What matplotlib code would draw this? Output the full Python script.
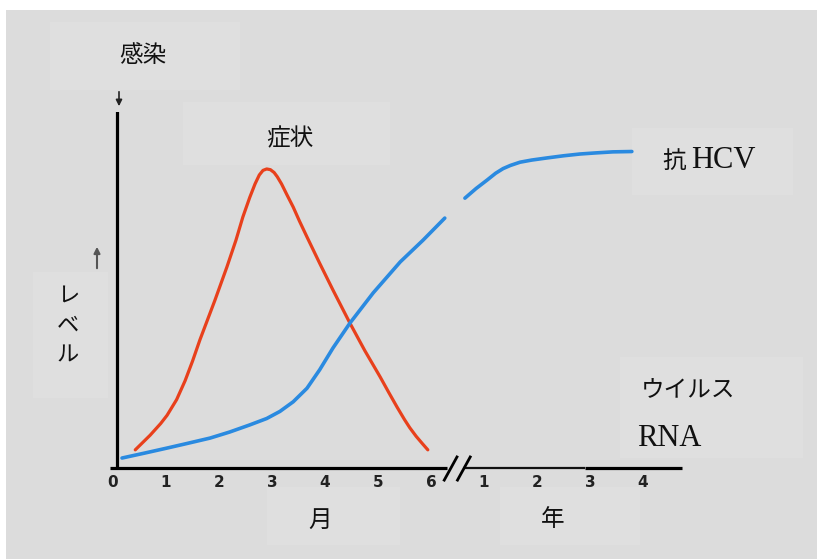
import matplotlib.pyplot as plt
import matplotlib.patches as mpatches
import numpy as np

plt.rcParams['font.family'] = ['Noto Sans CJK JP', 'DejaVu Sans']

# x positions: months 0-6, then years 1-4 placed after the break (year k -> 6 + k)
month_ticks = [0, 1, 2, 3, 4, 5, 6]
year_ticks = [1, 2, 3, 4]
tick_pos = month_ticks + [6 + y for y in year_ticks]
tick_labels = [str(m) for m in month_ticks] + [str(y) for y in year_ticks]

# symptoms curve (red)
symptom_x = [0.42, 0.70, 0.90, 1.02, 1.20, 1.36, 1.50, 1.64, 1.92, 2.15,
             2.32, 2.45, 2.58, 2.68, 2.76, 2.83, 2.90, 2.97, 3.04, 3.10,
             3.18, 3.28, 3.40, 3.52, 3.66, 3.90, 4.15, 4.47, 4.75, 5.04,
             5.20, 5.36, 5.50, 5.60, 5.72, 5.84, 5.94]
symptom_y = [5.1, 9.2, 12.5, 14.8, 19.2, 24.5, 30.0, 36.0, 47.0, 56.5,
             64.0, 70.5, 76.0, 79.8, 82.3, 83.6, 84.0, 83.8, 83.0, 81.8,
             79.8, 76.8, 73.3, 69.3, 64.9, 57.5, 50.0, 40.7, 33.0, 25.6,
             21.3, 17.1, 13.6, 11.3, 8.9, 6.8, 5.1]

# anti-HCV curve (blue), nan marks the gap in the line
antibody_x = [0.17, 0.60, 1.02, 1.40, 1.83, 2.20, 2.58, 2.90, 3.15, 3.40,
              3.66, 3.90, 4.15, 4.47, 4.91, 5.42, 5.85, 6.26, np.nan,
              6.64, 6.85, 7.06, 7.22, 7.36, 7.50, 7.68, 7.90, 8.19, 8.50,
              8.81, 9.10, 9.43, 9.79]
antibody_y = [2.8, 4.2, 5.6, 6.9, 8.4, 10.1, 12.1, 13.9, 15.9, 18.6,
              22.4, 27.6, 33.7, 40.7, 49.2, 57.9, 64.0, 70.2, np.nan,
              75.8, 78.5, 80.9, 82.8, 84.1, 85.0, 85.9, 86.5, 87.1, 87.7,
              88.2, 88.5, 88.8, 88.9]

W, H = 817, 559
fig = plt.figure(figsize=(W / 100, H / 100), dpi=100, facecolor='white')

# background layer in pixel coordinates
bg = fig.add_axes([0, 0, 1, 1], zorder=0)
bg.set_xlim(0, W)
bg.set_ylim(H, 0)
bg.axis('off')
bg.add_patch(mpatches.Rectangle((6, 10), W - 6, H - 10, color='#dcdcdc', lw=0))
boxes = [(50, 22, 190, 68), (183, 102, 207, 63), (632, 128, 161, 67),
         (620, 357, 183, 101), (33, 272, 75, 126), (267, 487, 133, 58),
         (500, 487, 140, 58)]
for bx, by, bw, bh in boxes:
    bg.add_patch(mpatches.Rectangle((bx, by), bw, bh, color='#dfdfdf', lw=0))

cjk = dict(family=['Noto Sans CJK JP'], color='#111111', ha='center', va='center')
bg.text(143, 56, '感染', fontsize=17, **cjk)
bg.text(290, 139, '症状', fontsize=17, **cjk)
bg.text(674, 161, '抗', fontsize=17, **cjk)
bg.text(691, 161, 'HCV', fontsize=22, family='Liberation Serif', color='#111111',
        ha='left', va='center')
bg.text(641, 391, 'ウイルス', fontsize=17, family=['Noto Sans CJK JP'],
        color='#111111', ha='left', va='center')
bg.text(637, 439, 'RNA', fontsize=22, family='Liberation Serif', color='#111111',
        ha='left', va='center')
for i, ch in enumerate('レベル'):
    bg.text(68, 295 + 30 * i, ch, fontsize=16, **cjk)
bg.text(320, 520, '月', fontsize=17, **cjk)
bg.text(553, 520, '年', fontsize=17, **cjk)
bg.annotate('', xy=(97, 244), xytext=(97, 271),
            arrowprops=dict(arrowstyle='-|>', color='#555555', lw=1.5,
                            mutation_scale=9))
bg.annotate('', xy=(119, 109), xytext=(119, 89),
            arrowprops=dict(arrowstyle='-|>', color='#222222', lw=1.2,
                            mutation_scale=9))

# main chart: 53 px per unit, zero at x=113 px; baseline at 468 px
px0, unit = 113, 53
x_left, x_right = -0.1, 10.74
ax = fig.add_axes([(px0 + x_left * unit) / W, (H - 468) / H,
                   (x_right - x_left) * unit / W, (468 - 112) / H], zorder=1)
ax.patch.set_alpha(0)
ax.set_xlim(x_left, x_right)
ax.set_ylim(0, 100)
for s in ax.spines.values():
    s.set_visible(False)
ax.set_yticks([])
ax.set_xticks(tick_pos)
ax.set_xticklabels(tick_labels, fontsize=11, fontweight='bold', color='#222222',
                   family='DejaVu Sans')
ax.tick_params(axis='x', length=0, pad=5)

# axes lines with break
ax.axvline(0.08, ymin=0, ymax=1, color='black', lw=2.3)
ax.plot([-0.05, 6.3], [0, 0], color='black', lw=2.3, clip_on=False,
        solid_capstyle='butt')
ax.plot([6.6, 8.9], [0, 0], color='#111111', lw=1.6, clip_on=False,
        solid_capstyle='butt')
ax.plot([8.9, 10.74], [0, 0], color='black', lw=2.3, clip_on=False,
        solid_capstyle='butt')
for x0 in (6.25, 6.5):
    ax.plot([x0, x0 + 0.24], [-3.4, 3.1], color='black', lw=2.0, clip_on=False)

ax.plot(symptom_x, symptom_y, color='#e8401c', lw=2.3, solid_capstyle='round',
        solid_joinstyle='round', clip_on=False)
ax.plot(antibody_x, antibody_y, color='#2a8ae0', lw=2.6, solid_capstyle='round',
        solid_joinstyle='round', clip_on=False)

fig.savefig('out.png', dpi=100, facecolor='white')
